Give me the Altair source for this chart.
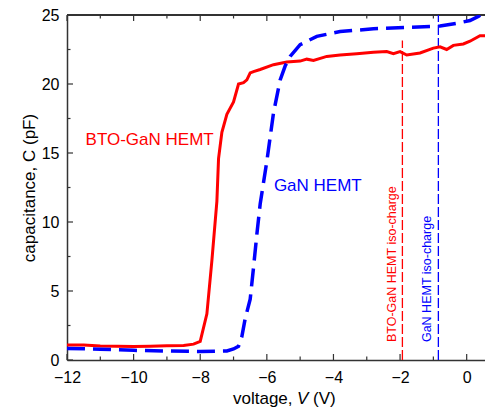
import altair as alt
import pandas as pd

# BTO-GaN HEMT C-V curve
bto_v = [-12, -11.5, -11, -10.5, -10, -9.5, -9, -8.5, -8.2, -8.0, -7.8, -7.65, -7.5, -7.45, -7.35,
         -7.2, -7.0, -6.85, -6.7, -6.6, -6.5, -6.4, -6.2, -5.8, -5.4, -5.0, -4.8, -4.6, -4.2, -3.8,
         -3.3, -2.8, -2.4, -2.2, -2.0, -1.8, -1.4, -1.0, -0.8, -0.6, -0.4, -0.1, 0.1, 0.4, 0.8]
bto_c = [1.08, 1.08, 1.02, 1.0, 0.97, 1.0, 1.03, 1.05, 1.15, 1.35, 3.35, 7.2, 11.5, 14.6, 16.5,
         17.8, 18.7, 20.0, 20.1, 20.3, 20.8, 20.9, 21.05, 21.4, 21.6, 21.66, 21.8, 21.7, 22.0, 22.1,
         22.2, 22.3, 22.35, 22.2, 22.35, 22.1, 22.25, 22.6, 22.7, 22.5, 22.8, 22.9, 23.1, 23.5, 23.5]

# GaN HEMT C-V curve
gan_v = [-12, -11, -10, -9, -8, -7.2, -7.0, -6.85, -6.75, -6.65, -6.5, -6.4, -6.3, -6.2, -6.0,
         -5.8, -5.6, -5.45, -5.3, -5.0, -4.5, -3.8, -2.8, -1.8, -0.8, -0.3, 0.1, 0.35, 0.5, 0.6]
gan_c = [0.84, 0.78, 0.7, 0.65, 0.62, 0.65, 0.8, 1.0, 1.7, 3.0, 4.4, 6.7, 9.1, 11.3, 14.4,
         17.9, 20.3, 21.3, 22.0, 22.85, 23.45, 23.8, 24.0, 24.1, 24.2, 24.4, 24.6, 24.9, 25.1, 25.5]

# iso-charge markers
iso_names = ["BTO-GaN HEMT iso-charge", "GaN HEMT iso-charge"]
iso_v = [-1.93, -0.85]
iso_top = [23.15, 25.0]
iso_colors = ["#ff0000", "#0000ff"]
iso_label_v = [-2.25, -1.2]

# curve labels
label_text = ["BTO-GaN HEMT", "GaN HEMT"]
label_v = [-9.52, -4.47]
label_c = [15.94, 12.63]
label_colors = ["#ff0000", "#0000ff"]

# x-axis title pieces (second piece italic)
xtitle_parts = ["voltage,", "V", "(V)"]

x_major = [-12, -10, -8, -6, -4, -2, 0]
x_minor = [-11, -9, -7, -5, -3, -1]
y_major = [0, 5, 10, 15, 20, 25]
y_minor = [2.5, 7.5, 12.5, 17.5, 22.5]

W, H = 418, 345
FONT = "Liberation Sans"
AX = "#333333"

xscale = alt.Scale(domain=[-12, 0.55], nice=False, zero=False)
yscale = alt.Scale(domain=[0, 25], nice=False, zero=False)
xaxis = alt.Axis(values=x_major, ticks=False, grid=False, domainColor=AX, domainWidth=1.5,
                 labelFont=FONT, labelFontSize=16, labelColor="black", labelPadding=9,
                 labelFlush=False, title=None)
yaxis = alt.Axis(values=y_major, ticks=False, grid=False, domainColor=AX, domainWidth=1.5,
                 labelFont=FONT, labelFontSize=16, labelColor="black", labelPadding=8,
                 labelFlush=False,
                 title="capacitance, C (pF)", titleFont=FONT, titleFontSize=17,
                 titleFontWeight="normal", titleColor="black", titlePadding=3)


def X(f):
    return alt.X(f, type="quantitative", scale=xscale, axis=xaxis)


def Y(f):
    return alt.Y(f, type="quantitative", scale=yscale, axis=yaxis)


bto = pd.DataFrame({"v": bto_v, "c": bto_c})
gan = pd.DataFrame({"v": gan_v, "c": gan_c})
iso = pd.DataFrame({"name": iso_names, "v": iso_v, "top": iso_top, "color": iso_colors,
                    "lv": iso_label_v, "lc": [1.3, 1.3], "zero": [0, 0]})
labels = pd.DataFrame({"t": label_text, "v": label_v, "c": label_c, "color": label_colors})

bto_line = alt.Chart(bto).mark_line(color="#ff0000", strokeWidth=3, clip=True).encode(
    x=X("v"), y=Y("c"), order="v:Q")
gan_line = alt.Chart(gan).mark_line(color="#0000ff", strokeWidth=3.5, strokeDash=[18, 8],
                                    clip=True).encode(x=X("v"), y=Y("c"), order="v:Q")

iso_lines = alt.Chart(iso).mark_rule(strokeWidth=1.3, strokeDash=[10, 3]).encode(
    x=X("v"), y=Y("zero"), y2=alt.Y2("top"), color=alt.Color("color:N", scale=None))

iso_text = alt.Chart(iso).mark_text(angle=270, align="left", baseline="middle", font=FONT,
                                    fontSize=12.5).encode(
    x=X("lv"), y=Y("lc"), text="name:N", color=alt.Color("color:N", scale=None))

curve_text = alt.Chart(labels).mark_text(align="center", baseline="middle", font=FONT,
                                         fontSize=17).encode(
    x=X("v"), y=Y("c"), text="t:N", color=alt.Color("color:N", scale=None))

# x-axis title built from three text pieces so that V can be italic
TY = H + 44
xt_style = dict(font=FONT, fontSize=17, color="black", align="left", baseline="alphabetic")
xt = pd.DataFrame({"t": xtitle_parts})
xtitle = [
    alt.Chart(xt).transform_filter(alt.datum.t == xtitle_parts[0]).mark_text(**xt_style).encode(
        text="t:N", x=alt.value(166), y=alt.value(TY)),
    alt.Chart(xt).transform_filter(alt.datum.t == xtitle_parts[1]).mark_text(
        fontStyle="italic", **xt_style).encode(text="t:N", x=alt.value(230), y=alt.value(TY)),
    alt.Chart(xt).transform_filter(alt.datum.t == xtitle_parts[2]).mark_text(**xt_style).encode(
        text="t:N", x=alt.value(246), y=alt.value(TY)),
]

# inward tick marks
xmaj = pd.DataFrame({"v": x_major})
xmin = pd.DataFrame({"v": x_minor})
ymaj = pd.DataFrame({"c": y_major})
ymin = pd.DataFrame({"c": y_minor})

tick_style = dict(color=AX, strokeWidth=1.2)
ticks = [
    alt.Chart(xmaj).mark_rule(**tick_style).encode(x=X("v"), y=alt.value(H), y2=alt.value(H - 6)),
    alt.Chart(xmin).mark_rule(**tick_style).encode(x=X("v"), y=alt.value(H), y2=alt.value(H - 3.5)),
    alt.Chart(xmaj).mark_rule(**tick_style).encode(x=X("v"), y=alt.value(0), y2=alt.value(6)),
    alt.Chart(xmin).mark_rule(**tick_style).encode(x=X("v"), y=alt.value(0), y2=alt.value(3.5)),
    alt.Chart(ymaj).mark_rule(**tick_style).encode(y=Y("c"), x=alt.value(0), x2=alt.value(6)),
    alt.Chart(ymin).mark_rule(**tick_style).encode(y=Y("c"), x=alt.value(0), x2=alt.value(3.5)),
]
top_line = alt.Chart(xmaj).mark_rule(color=AX, strokeWidth=1.5).encode(
    x=alt.value(0), x2=alt.value(W), y=alt.value(0))

chart = alt.layer(
    *ticks, top_line, iso_lines, iso_text, curve_text, bto_line, gan_line, *xtitle
).properties(
    width=W, height=H,
    autosize=alt.AutoSizeParams(type="none"),
    padding={"left": 59, "top": 7, "right": 0, "bottom": 49},
).configure_view(stroke=None).configure(background="white")

chart.save("out.html", embed_options={"renderer": "svg", "actions": False})
